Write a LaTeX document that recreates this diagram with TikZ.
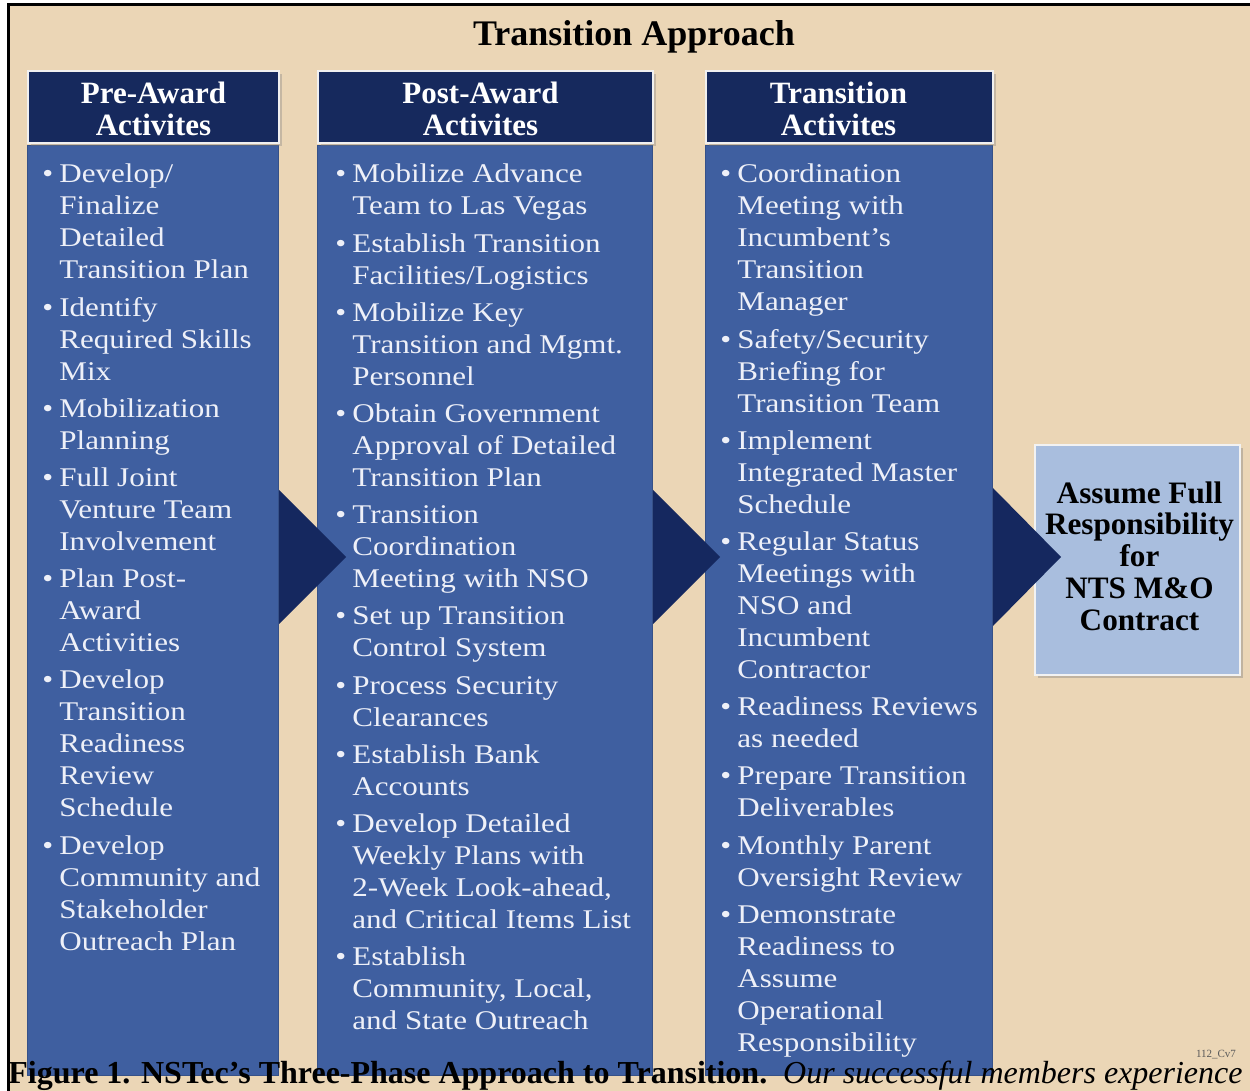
\documentclass[tikz,border=0pt]{standalone}
\usepackage{fontspec}
\setmainfont{Liberation Serif}
\newfontfamily\bodyfont[FakeStretch=1.15]{Liberation Serif}
\usetikzlibrary{shadows}
\definecolor{bg}{HTML}{EBD6B6}
\definecolor{navy}{HTML}{16295D}
\definecolor{bodyblue}{HTML}{3F5FA0}
\definecolor{arrownavy}{HTML}{15285F}
\definecolor{lightbox}{HTML}{A9BEDE}
\definecolor{txt}{HTML}{EEF0F8}
\newcommand{\Bu}{\makebox[8.5pt][l]{\textbullet}}
\newcommand{\Co}{\hspace*{8.5pt}}
\newcommand{\Gp}{\\[2.6pt]}
\begin{document}
\begin{tikzpicture}[x=0.5pt,y=-0.5pt,
  hdr/.style={fill=navy, draw=white!88!gray, line width=1pt, inner sep=0pt,
    minimum height=36pt,
    drop shadow={shadow xshift=1.5pt, shadow yshift=-1.5pt, opacity=0.35}},
  hdrtext/.style={inner sep=0pt, text=white, align=center,
    font=\bfseries\fontsize{15.5}{16}\selectfont},
  bodybox/.style={fill=bodyblue, draw=bodyblue!85!black, line width=0.5pt,
    inner sep=0pt, minimum height=465pt},
  bodytext/.style={anchor=base west, inner sep=0pt, text=txt,
    font=\bodyfont\fontsize{13.5}{16}\selectfont},
  arrowfill/.style={fill=arrownavy},
]
\useasboundingbox (0,0) rectangle (1250,1091);
\fill[white] (0,0) rectangle (1250,1091);
\fill[bg] (8,5) rectangle (1250,1091);
\draw[line width=1.5pt, black] (8,1091) -- (8,5) -- (1250,5);

\node[anchor=base, font=\bfseries\fontsize{18}{20}\selectfont] (title) at (634,46) {Transition Approach};

% bodies
\node[bodybox, anchor=north west, minimum width=125.5pt] (b1) at (27,145) {};
\node[bodybox, anchor=north west, minimum width=167.5pt] (b2) at (317,145) {};
\node[bodybox, anchor=north west, minimum width=143.5pt] (b3) at (705,145) {};

% headers
\node[hdr, anchor=north west, minimum width=125.5pt] (h1) at (27,70) {};
\node[hdr, anchor=north west, minimum width=167.5pt] (h2) at (317,70) {};
\node[hdr, anchor=north west, minimum width=143.5pt] (h3) at (705,70) {};
\node[hdrtext] (h1t) at ([yshift=-1pt]h1.center) {Pre-Award\\Activites};
\node[hdrtext] (h2t) at ([xshift=-2.5pt,yshift=-1pt]h2.center) {Post-Award\\Activites};
\node[hdrtext] (h3t) at ([xshift=-5.5pt,yshift=-1pt]h3.center) {Transition\\Activites};

% texts
\node[bodytext] (t1) at (42,183) {\begin{tabular}[t]{@{}l@{}}
\Bu Develop/\\ \Co Finalize\\ \Co Detailed\\ \Co Transition Plan\Gp
\Bu Identify\\ \Co Required Skills\\ \Co Mix\Gp
\Bu Mobilization\\ \Co Planning\Gp
\Bu Full Joint\\ \Co Venture Team\\ \Co Involvement\Gp
\Bu Plan Post-\\ \Co Award\\ \Co Activities\Gp
\Bu Develop\\ \Co Transition\\ \Co Readiness\\ \Co Review\\ \Co Schedule\Gp
\Bu Develop\\ \Co Community and\\ \Co Stakeholder\\ \Co Outreach Plan
\end{tabular}};

\node[bodytext] (t2) at (335,183) {\begin{tabular}[t]{@{}l@{}}
\Bu Mobilize Advance\\ \Co Team to Las Vegas\Gp
\Bu Establish Transition\\ \Co Facilities/Logistics\Gp
\Bu Mobilize Key\\ \Co Transition and Mgmt.\\ \Co Personnel\Gp
\Bu Obtain Government\\ \Co Approval of Detailed\\ \Co Transition Plan\Gp
\Bu Transition\\ \Co Coordination\\ \Co Meeting with NSO\Gp
\Bu Set up Transition\\ \Co Control System\Gp
\Bu Process Security\\ \Co Clearances\Gp
\Bu Establish Bank\\ \Co Accounts\Gp
\Bu Develop Detailed\\ \Co Weekly Plans with\\ \Co 2-Week Look-ahead,\\ \Co and Critical Items List\Gp
\Bu Establish\\ \Co Community, Local,\\ \Co and State Outreach
\end{tabular}};

\node[bodytext] (t3) at (720,183) {\begin{tabular}[t]{@{}l@{}}
\Bu Coordination\\ \Co Meeting with\\ \Co Incumbent’s\\ \Co Transition\\ \Co Manager\Gp
\Bu Safety/Security\\ \Co Briefing for\\ \Co Transition Team\Gp
\Bu Implement\\ \Co Integrated Master\\ \Co Schedule\Gp
\Bu Regular Status\\ \Co Meetings with\\ \Co NSO and\\ \Co Incumbent\\ \Co Contractor\Gp
\Bu Readiness Reviews\\ \Co as needed\Gp
\Bu Prepare Transition\\ \Co Deliverables\Gp
\Bu Monthly Parent\\ \Co Oversight Review\Gp
\Bu Demonstrate\\ \Co Readiness to\\ \Co Assume\\ \Co Operational\\ \Co Responsibility
\end{tabular}};

% final box
\node[fill=lightbox, draw=white!90!gray, line width=1.2pt, inner sep=0pt,
  minimum width=102.5pt, minimum height=115pt,
  drop shadow={shadow xshift=1.5pt, shadow yshift=-1.5pt, opacity=0.4}]
  (fb) at (1137.5,560) {};
\node[inner sep=0pt, align=center, font=\bfseries\fontsize{15.6}{15.9}\selectfont]
  (fbt) at ([xshift=1pt,yshift=2pt]fb.center) {Assume Full\\Responsibility\\for\\NTS M\&O\\Contract};

% arrows
\path (b1.north east) ++(0,345) coordinate (a1);
\path (b2.north east) ++(0,345) coordinate (a2);
\path (b3.north east) ++(0,343) coordinate (a3);
\fill[arrowfill] (a1) -- ++(67,67) -- ++(-67,67) -- cycle;
\fill[arrowfill] (a2) -- ++(67,67) -- ++(-67,67) -- cycle;
\fill[arrowfill] (a3) -- ++(68,69) -- ++(-68,69) -- cycle;

% tag and caption
\node[anchor=base, inner sep=0pt, text=black!65, font=\fontsize{5.5}{6}\selectfont] (tag) at (1216,1057) {112\_Cv7};
\node[anchor=base west, inner sep=0pt, font=\fontsize{16}{18}\selectfont] (cap) at (8,1083)
  {\textbf{Figure 1. NSTec’s Three-Phase Approach to Transition.}\enspace\textit{Our successful members experience}};
\end{tikzpicture}
\end{document}
